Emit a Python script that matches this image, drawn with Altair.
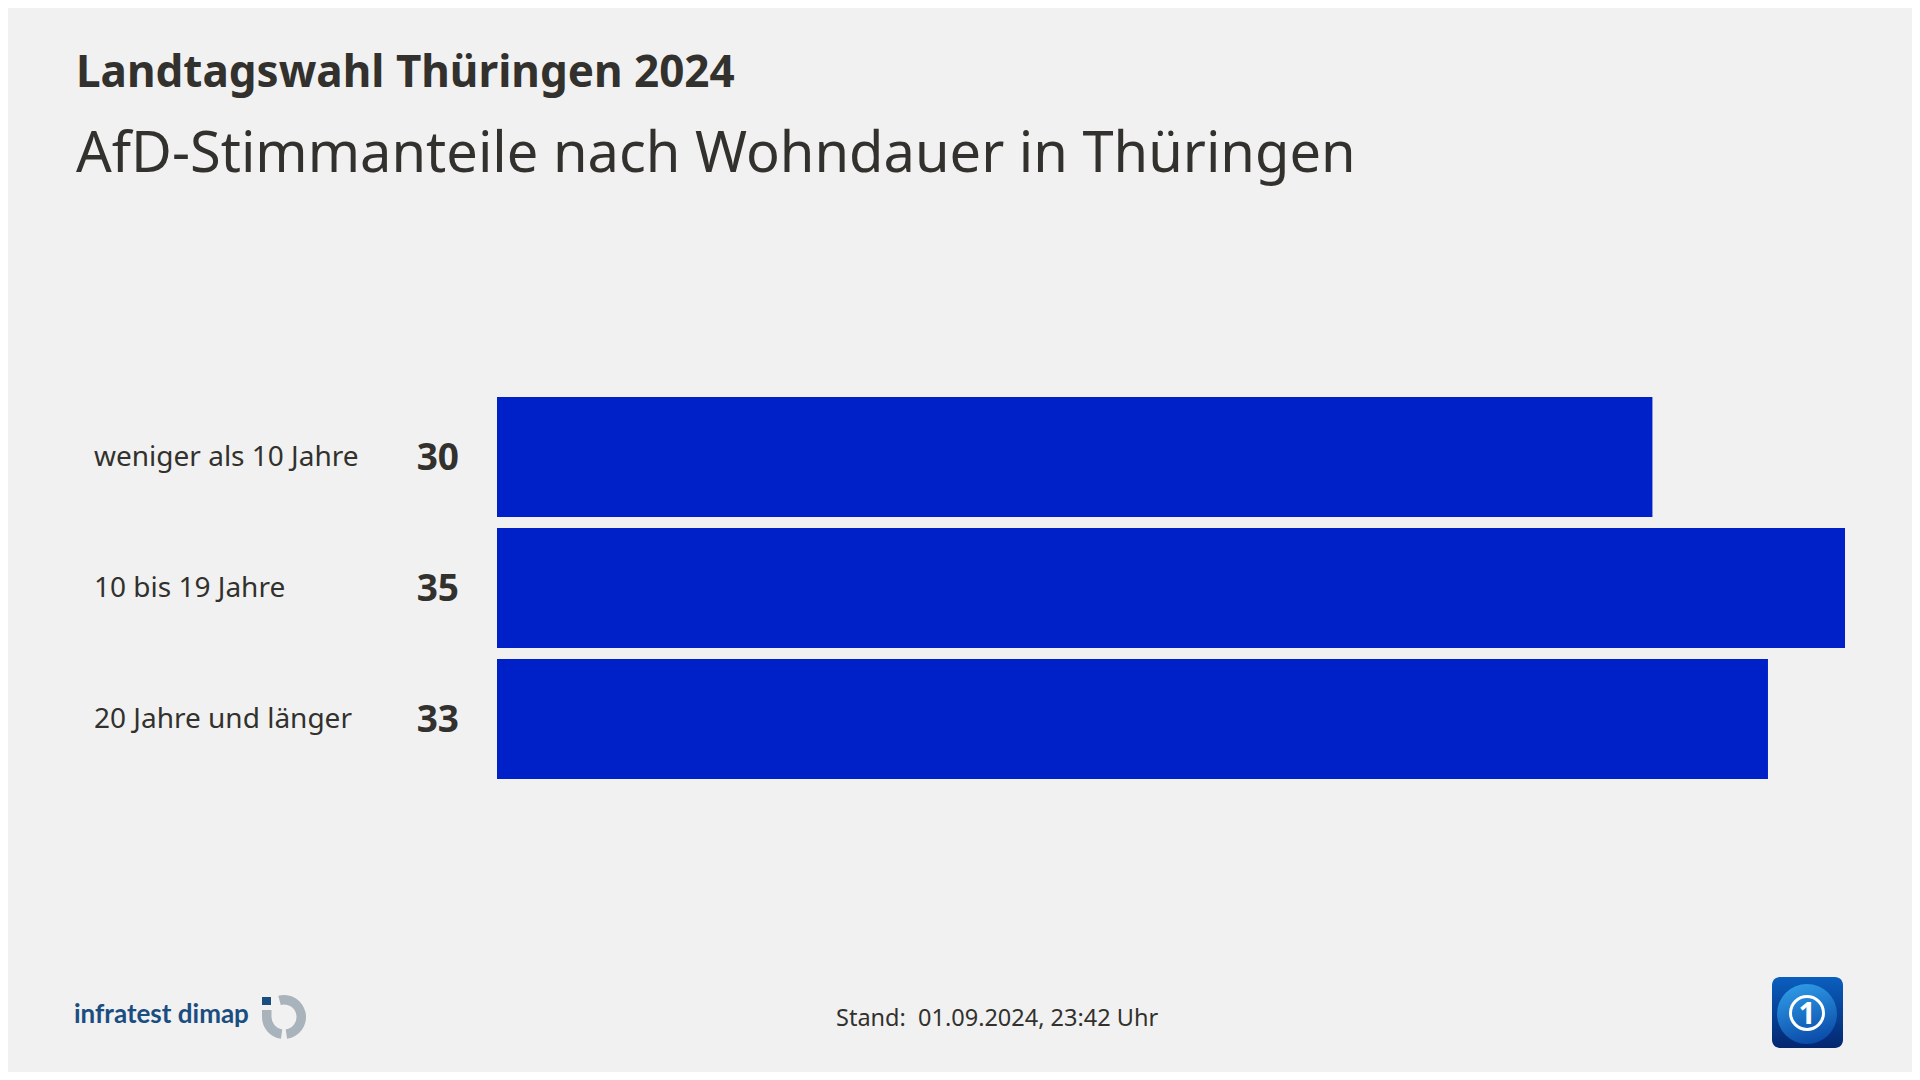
import altair as alt
import pandas as pd

categories = ["weniger als 10 Jahre", "10 bis 19 Jahre", "20 Jahre und länger"]
values = [30, 35, 33]
title_text = "Landtagswahl Thüringen 2024"
subtitle_text = "AfD-Stimmanteile nach Wohndauer in Thüringen"
footer_text = "Stand:\u00a0\u00a001.09.2024, 23:42 Uhr"
logo_text = "infratest dimap"

BG = "#f1f1f1"
INK = "#32312d"
BAR = "#0021c7"
FONT = "Noto Sans"

OX, OY = 497, 397
px = lambda v: alt.value(v - OX)
py = lambda v: alt.value(v - OY)

df = pd.DataFrame({"cat": categories, "val": values})
one = pd.DataFrame({"a": [0]})

yscale = alt.Scale(domain=categories, paddingInner=11/131, paddingOuter=0)
yenc = alt.Y("cat:N", sort=categories, scale=yscale, axis=None)

bars = alt.Chart(df).mark_bar(color=BAR).encode(
    x=alt.X("val:Q", scale=alt.Scale(domain=[0, 35], nice=False), axis=None),
    y=yenc,
)
nums = alt.Chart(df).mark_text(font=FONT, fontSize=37, fontWeight="bold", color=INK,
                               align="right", baseline="middle", dy=2).encode(
    x=px(459), y=yenc, text="val:Q",
)
cats = alt.Chart(df).mark_text(font=FONT, fontSize=28, color=INK,
                               align="left", baseline="middle", dy=1).encode(
    x=px(94), y=yenc, text="cat:N",
)

def label(text, x, y, size, weight="normal", color=INK, align="left", font=FONT):
    return alt.Chart(one).mark_text(text=text, font=font, fontSize=size, fontWeight=weight,
                                    color=color, align=align, baseline="alphabetic").encode(
        x=px(x), y=py(y))

def box(x0, x1, y0, y1, **kw):
    return alt.Chart(one).mark_rect(**kw).encode(x=px(x0), x2=px(x1), y=py(y0), y2=py(y1))

def arc(cx, cy, r0, r1, t0, t1, color):
    return alt.Chart(one).mark_arc(theta=t0, theta2=t1, radius=r1, radius2=r0, color=color).encode(
        x=px(cx), y=py(cy))

rad = 3.14159265 / 180
GREY = "#a9b3bb"
NAVY = "#1a4d80"
layers = [
    bars, nums, cats,
    label(title_text, 76, 87, 44, "bold"),
    label(subtitle_text, 76, 172, 56),
    label(footer_text, 836, 1026, 23.5),
    label(logo_text, 74, 1023, 26, "bold", NAVY, font="Lato"),
    box(262, 271, 997, 1005, color=NAVY),
    arc(284, 1017, 12.5, 22, 345 * rad, 532 * rad, GREY),
    arc(284, 1017, 12.5, 22, 188 * rad, 270 * rad, GREY),
    box(262, 271.5, 1010, 1017, color=GREY),
    box(1772, 1843, 977, 1048, cornerRadius=8,
        color=alt.Gradient(gradient="linear", x1=0, y1=0, x2=0, y2=1,
                           stops=[alt.GradientStop(offset=0, color="#0a5fbf"),
                                  alt.GradientStop(offset=1, color="#04266f")])),
    arc(1807, 1014, 0, 30, 0, 6.2832,
        alt.Gradient(gradient="linear", x1=0.3, y1=0, x2=0.6, y2=1,
                     stops=[alt.GradientStop(offset=0, color="#2f9be6"),
                            alt.GradientStop(offset=1, color="#0a4aa8")])),
    arc(1807, 1013, 15, 18, 0, 6.2832, "#ffffff"),
    label("1", 1807, 1024, 30, "bold", "#ffffff", "center"),
]

chart = alt.layer(*layers).properties(
    width=1348, height=382,
    background=BG,
    padding={"left": 489, "top": 389, "right": 67, "bottom": 293},
    autosize=alt.AutoSizeParams(type="none"),
).configure_view(stroke=None)

chart.save("out.html", embed_options={"renderer": "svg", "actions": False})
